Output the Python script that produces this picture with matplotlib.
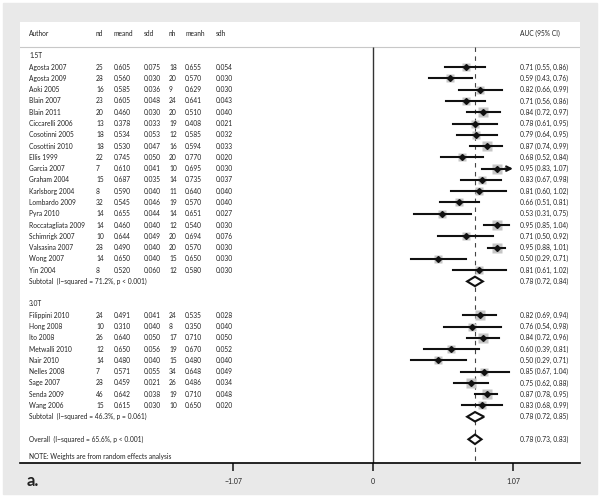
import matplotlib.pyplot as plt
from matplotlib.patches import Polygon, Rectangle

plt.rcParams['font.family'] = ['Lato', 'DejaVu Sans']

# 1.5T studies
authors_15 = ['Agosta 2007', 'Agosta 2009', 'Aoki 2005', 'Blain 2007', 'Blain 2011',
              'Ciccarelli 2006', 'Cosotinni 2005', 'Cosottini 2010', 'Ellis 1999',
              'Garcia 2007', 'Graham 2004', 'Karlsborg 2004', 'Lombardo 2009',
              'Pyra 2010', 'Roccatagliata 2009', 'Schimrigk 2007', 'Valsasina 2007',
              'Wong 2007', 'Yin 2004']
nd_15 = ['25', '28', '16', '23', '20', '13', '18', '18', '22', '7', '15', '8', '32',
         '14', '14', '10', '28', '14', '8']
meand_15 = ['0.605', '0.560', '0.585', '0.605', '0.460', '0.378', '0.534', '0.530',
            '0.745', '0.610', '0.687', '0.590', '0.545', '0.655', '0.460', '0.644',
            '0.490', '0.650', '0.520']
sdd_15 = ['0.075', '0.030', '0.036', '0.048', '0.030', '0.033', '0.053', '0.047',
          '0.050', '0.041', '0.035', '0.040', '0.046', '0.044', '0.040', '0.049',
          '0.040', '0.040', '0.060']
nh_15 = ['18', '20', '9', '24', '20', '19', '12', '16', '20', '10', '14', '11', '19',
         '14', '12', '20', '20', '15', '12']
meanh_15 = ['0.655', '0.570', '0.629', '0.641', '0.510', '0.408', '0.585', '0.594',
            '0.770', '0.695', '0.735', '0.640', '0.570', '0.651', '0.540', '0.694',
            '0.570', '0.650', '0.580']
sdh_15 = ['0.054', '0.030', '0.030', '0.043', '0.040', '0.021', '0.032', '0.033',
          '0.020', '0.030', '0.037', '0.040', '0.040', '0.027', '0.030', '0.076',
          '0.030', '0.030', '0.030']
auc_15 = [0.71, 0.59, 0.82, 0.71, 0.84, 0.78, 0.79, 0.87, 0.68, 0.95, 0.83, 0.81,
          0.66, 0.53, 0.95, 0.71, 0.95, 0.50, 0.81]
lo_15 = [0.55, 0.43, 0.66, 0.56, 0.72, 0.61, 0.64, 0.74, 0.52, 0.83, 0.67, 0.60,
         0.51, 0.31, 0.85, 0.50, 0.88, 0.29, 0.61]
hi_15 = [0.86, 0.76, 0.99, 0.86, 0.97, 0.95, 0.95, 0.99, 0.84, 1.07, 0.98, 1.02,
         0.81, 0.75, 1.04, 0.92, 1.01, 0.71, 1.02]
wt_15 = [3.6, 3.5, 3.5, 3.7, 4.0, 3.4, 3.6, 4.0, 3.5, 4.1, 3.6, 3.0, 3.7, 2.9, 4.4,
         3.0, 4.8, 3.0, 3.0]

# 3.0T studies
authors_30 = ['Filippini 2010', 'Hong 2008', 'Ito 2008', 'Metwalli 2010', 'Nair 2010',
              'Nelles 2008', 'Sage 2007', 'Senda 2009', 'Wang 2006']
nd_30 = ['24', '10', '26', '12', '14', '7', '28', '46', '15']
meand_30 = ['0.491', '0.310', '0.640', '0.650', '0.480', '0.571', '0.459', '0.642', '0.615']
sdd_30 = ['0.041', '0.040', '0.050', '0.056', '0.040', '0.055', '0.021', '0.038', '0.030']
nh_30 = ['24', '8', '17', '19', '15', '34', '26', '19', '10']
meanh_30 = ['0.535', '0.350', '0.710', '0.670', '0.480', '0.648', '0.486', '0.710', '0.650']
sdh_30 = ['0.028', '0.040', '0.050', '0.052', '0.040', '0.049', '0.034', '0.048', '0.020']
auc_30 = [0.82, 0.76, 0.84, 0.60, 0.50, 0.85, 0.75, 0.87, 0.83]
lo_30 = [0.69, 0.54, 0.72, 0.39, 0.29, 0.67, 0.62, 0.78, 0.68]
hi_30 = [0.94, 0.98, 0.96, 0.81, 0.71, 1.04, 0.88, 0.95, 0.99]
wt_30 = [4.0, 2.9, 4.1, 3.0, 3.0, 3.3, 3.9, 4.6, 3.6]

# pooled estimates: subtotal 1.5T, subtotal 3.0T, overall
pooled_labels = ['Subtotal  (I\u2212squared = 71.2%, p < 0.001)',
                 'Subtotal  (I\u2212squared = 46.3%, p = 0.061)',
                 'Overall  (I\u2212squared = 65.6%, p < 0.001)']
pooled_auc = [0.78, 0.78, 0.78]
pooled_lo = [0.72, 0.72, 0.73]
pooled_hi = [0.84, 0.85, 0.83]

xticks = [-1.07, 0, 1.07]
xtick_labels = ['\u22121.07', '0', '1.07']

# row positions
rows_15 = list(range(1, 20))
rows_30 = list(range(23, 32))
pooled_rows = [20, 32, 34]

fig = plt.figure(figsize=(6, 4.98), dpi=100)
fig.patches.append(Rectangle((3 / 600, 4 / 498), 594 / 600, 491 / 498,
                             transform=fig.transFigure, color='#e9e9e9', zorder=-10))

ax = fig.add_axes([20 / 600, 35 / 498, 560 / 600, 441 / 498])
ax.set_facecolor('white')
ax.set_xlim(-2.699, 1.583)
ax.set_ylim(36.1, -3.0)
for s in ['top', 'left', 'right']:
    ax.spines[s].set_visible(False)
ax.spines['bottom'].set_linewidth(1.2)
ax.set_yticks([])
ax.set_xticks(xticks)
ax.set_xticklabels(xtick_labels)
ax.tick_params(axis='x', direction='out', length=6, width=1.2, labelsize=5,
               pad=5, colors='#222222')

txt = dict(fontsize=4.8, va='center', ha='left', color='#222222')
cols = [-2.63, -2.118, -1.985, -1.75, -1.56, -1.436, -1.20]
x_ci = 1.124

# header
for x, h in zip(cols, ['Author', 'nd', 'meand', 'sdd', 'nh', 'meanh', 'sdh']):
    ax.text(x, -2.02, h, **txt)
ax.text(x_ci, -2.02, 'AUC (95% CI)', **txt)
ax.axhline(-0.78, color='#c8c8c8', lw=0.8)

# reference lines
ax.vlines(0, -0.78, 36.1, color='#333333', lw=1.0)
ax.vlines(pooled_auc[2], -0.78, 36.1, color='#444444', lw=0.8,
          linestyles=(0, (4, 4)))

ax.text(cols[0], 0, '1.5T', **txt)
ax.text(cols[0], 22, '3.0T', **txt)
ax.text(cols[0], 35.5, 'NOTE: Weights are from random effects analysis', **txt)


def draw_group(rows, authors, nd, meand, sdd, nh, meanh, sdh, auc, lo, hi, wt):
    for i, r in enumerate(rows):
        vals = [authors[i], nd[i], meand[i], sdd[i], nh[i], meanh[i], sdh[i]]
        for x, v in zip(cols, vals):
            ax.text(x, r, v, **txt)
        ax.text(x_ci, r, f'{auc[i]:.2f} ({lo[i]:.2f}, {hi[i]:.2f})', **txt)
        side = 4.56 * wt[i] ** 0.5 * 0.72
        ax.plot(auc[i], r, marker='s', ms=side, color='#c6c6c6', mec='none', zorder=2)
        if hi[i] >= 1.07:
            ax.plot([lo[i], hi[i] - 0.03], [r, r], color='#111111', lw=1.5, zorder=3)
            ax.annotate('', xy=(hi[i], r), xytext=(hi[i] - 0.06, r),
                        arrowprops=dict(arrowstyle='->', lw=1.5, color='#111111',
                                        mutation_scale=8, shrinkA=0, shrinkB=0),
                        zorder=3)
        else:
            ax.plot([lo[i], hi[i]], [r, r], color='#111111', lw=1.5, zorder=3)
        ax.plot(auc[i], r, marker='D', ms=3, color='#111111', zorder=4)


draw_group(rows_15, authors_15, nd_15, meand_15, sdd_15, nh_15, meanh_15, sdh_15,
           auc_15, lo_15, hi_15, wt_15)
draw_group(rows_30, authors_30, nd_30, meand_30, sdd_30, nh_30, meanh_30, sdh_30,
           auc_30, lo_30, hi_30, wt_30)

for r, lab, a, l, h in zip(pooled_rows, pooled_labels, pooled_auc, pooled_lo, pooled_hi):
    ax.text(cols[0], r, lab, **txt)
    ax.text(x_ci, r, f'{a:.2f} ({l:.2f}, {h:.2f})', **txt)
    d = Polygon([(l, r), (a, r - 0.42), (h, r), (a, r + 0.42)], closed=True,
                facecolor='white', edgecolor='#111111', lw=1.5, zorder=5)
    ax.add_patch(d)

fig.text(27 / 600, 1 - 481 / 498, 'a.', fontsize=12, fontweight='bold',
         va='center', ha='left', color='#222222')

fig.savefig('out.png', dpi=100, facecolor='white')
